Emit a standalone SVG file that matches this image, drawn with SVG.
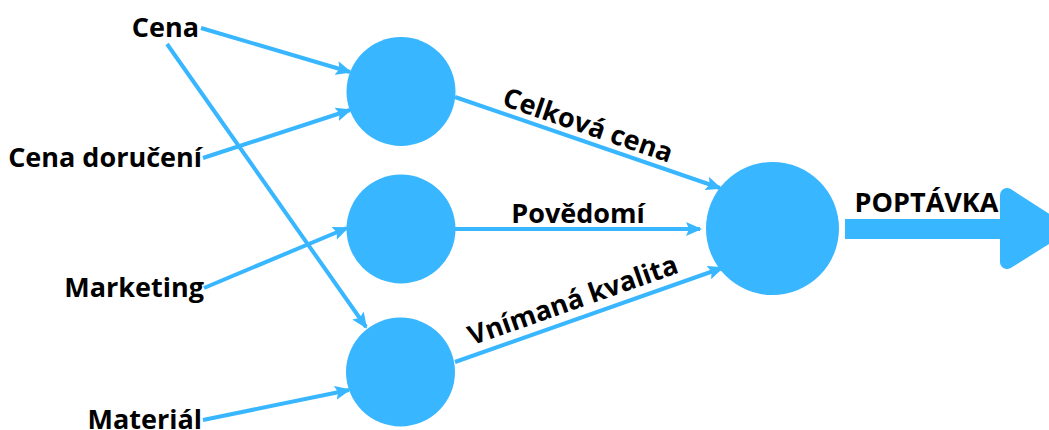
<svg xmlns="http://www.w3.org/2000/svg" width="1049" height="430" viewBox="0 0 1049 430">
<style>
.lbl{font-family:"Open Sans","Liberation Sans",sans-serif;font-weight:700;font-size:27px;fill:#000}
.node{fill:#38b6ff}
.con{stroke:#38b6ff;stroke-width:4;fill:none;marker-end:url(#ah)}
</style>
<defs>
<marker id="ah" viewBox="0 0 16 14" refX="14" refY="7" markerWidth="16" markerHeight="14" markerUnits="userSpaceOnUse" orient="auto">
<path d="M0,0 L16,7 L0,14 L3,7 z" fill="#38b6ff"/>
</marker>
</defs>
<rect width="1049" height="430" fill="#fff"/>
<g id="connectors">
<line class="con" x1="201" y1="28" x2="350" y2="72"/>
<line class="con" x1="167" y1="44" x2="366" y2="327"/>
<line class="con" x1="203" y1="158" x2="350" y2="110"/>
<line class="con" x1="204" y1="288" x2="347" y2="228"/>
<line class="con" x1="203" y1="420" x2="349" y2="390"/>
<line class="con" x1="455" y1="97" x2="720" y2="188"/>
<line class="con" x1="455" y1="229" x2="700" y2="229"/>
<line class="con" x1="455" y1="362" x2="722" y2="268"/>
<text class="lbl" text-anchor="middle" transform="translate(585,134) rotate(19)">Celková cena</text>
<text class="lbl" x="578" y="223" text-anchor="middle">Povědomí</text>
<text class="lbl" text-anchor="middle" transform="translate(576,309) rotate(-19.4)">Vnímaná kvalita</text>
</g>
<g id="in-cena"><text class="lbl" x="199" y="37" text-anchor="end">Cena</text></g>
<g id="in-cena-doruceni"><text class="lbl" x="202" y="167" text-anchor="end">Cena doručení</text></g>
<g id="in-marketing"><text class="lbl" x="204" y="297" text-anchor="end">Marketing</text></g>
<g id="in-material"><text class="lbl" x="202" y="429" text-anchor="end">Materiál</text></g>
<g id="n1"><circle class="node" cx="401" cy="91.5" r="54.5"/></g>
<g id="n2"><circle class="node" cx="401" cy="229" r="54.5"/></g>
<g id="n3"><circle class="node" cx="400.5" cy="372" r="54.5"/></g>
<g id="demand"><circle class="node" cx="772.5" cy="228.5" r="66.5"/></g>
<g id="out">
<rect x="845" y="219" width="160" height="20" fill="#38b6ff"/>
<polygon points="1007,195 1060,229 1007,262" fill="#38b6ff" stroke="#38b6ff" stroke-width="14" stroke-linejoin="round"/>
<text class="lbl" x="926.5" y="212" text-anchor="middle">POPTÁVKA</text>
</g>
</svg>
